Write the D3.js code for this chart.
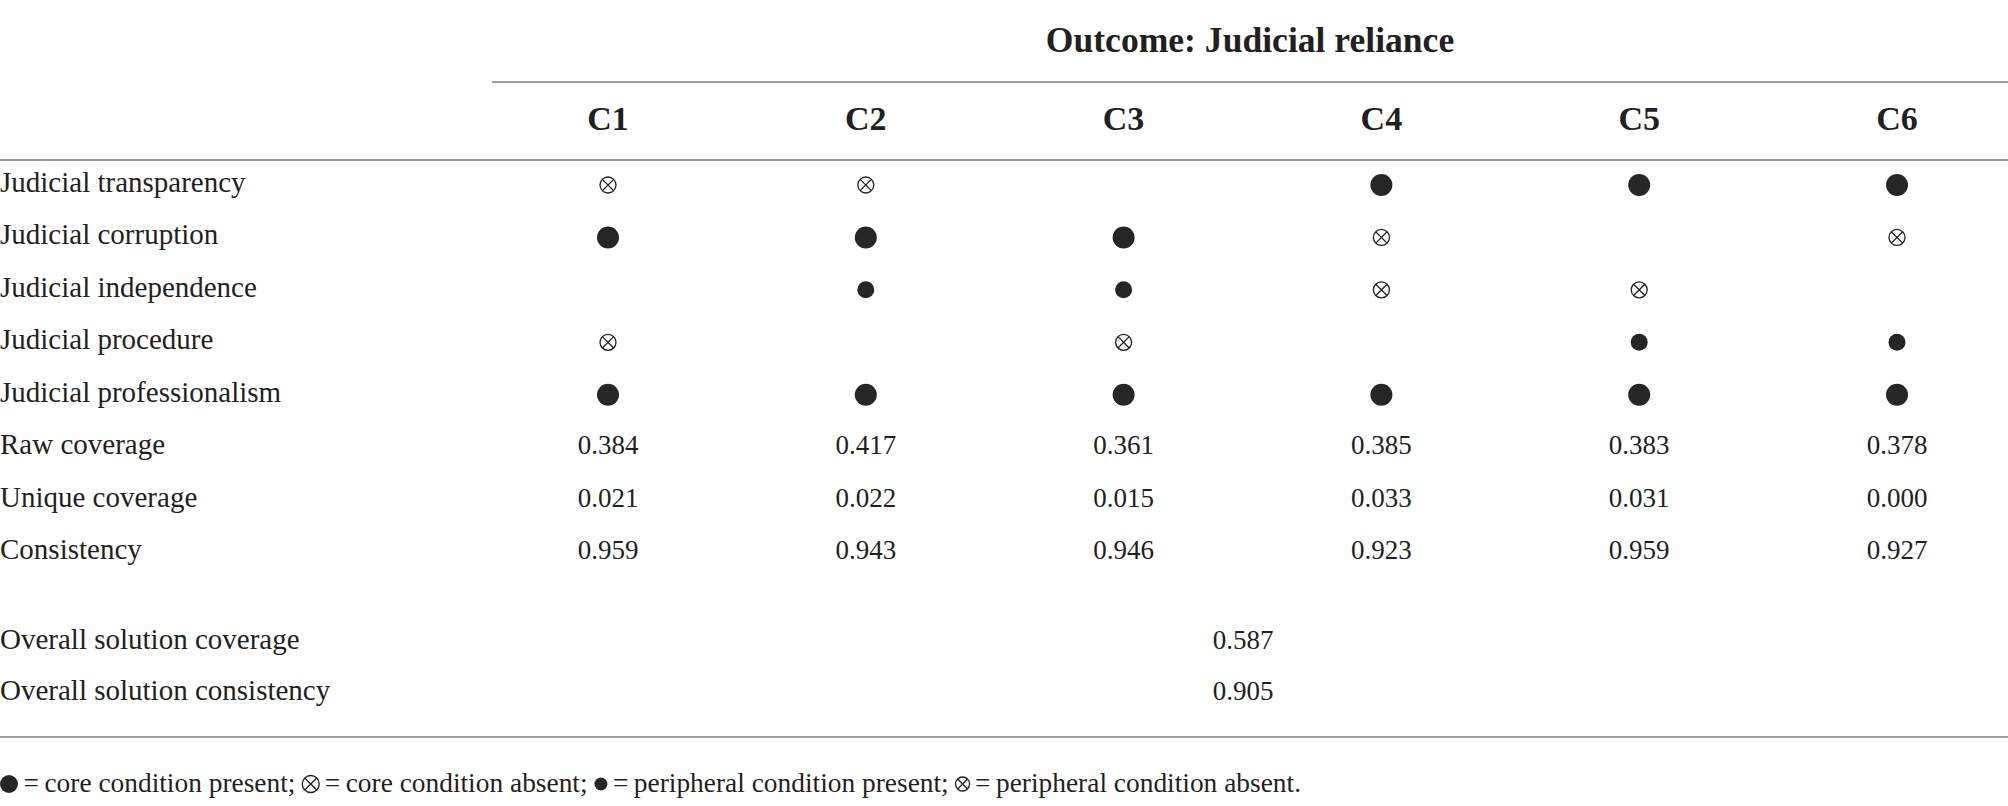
<!DOCTYPE html>
<html>
<head>
<meta charset="utf-8">
<script src="https://cdn.jsdelivr.net/npm/d3@7"></script>
<style>
  html, body { margin: 0; padding: 0; background: #fff; }
  svg { display: block; }
  text { font-family: "Liberation Serif", "DejaVu Serif", serif; fill: #231f20; }
</style>
</head>
<body>
<svg id="table" width="2008" height="806"></svg>
<script>
// configurations (columns)
var configs = ["C1", "C2", "C3", "C4", "C5", "C6"];

// conditions (rows with symbols)
var conditions = [
    "Judicial transparency",
    "Judicial corruption",
    "Judicial independence",
    "Judicial procedure",
    "Judicial professionalism"
];

// CP = core present, CA = core absent, PP = peripheral present, PA = peripheral absent, "" = blank
var cells = [
    ["PA", "PA", "",   "CP", "CP", "CP"],
    ["CP", "CP", "CP", "PA", "",   "PA"],
    ["",   "PP", "PP", "PA", "PA", ""],
    ["PA", "",   "PA", "",   "PP", "PP"],
    ["CP", "CP", "CP", "CP", "CP", "CP"]
];

var metrics = ["Raw coverage", "Unique coverage", "Consistency"];
var rawCoverage = [0.384, 0.417, 0.361, 0.385, 0.383, 0.378];
var uniqueCoverage = [0.021, 0.022, 0.015, 0.033, 0.031, 0.000];
var consistency = [0.959, 0.943, 0.946, 0.923, 0.959, 0.927];

var overallLabels = ["Overall solution coverage", "Overall solution consistency"];
var overallValues = [0.587, 0.905];

var footnote = [
    { sym: "CP", text: "\u2009=\u2009core condition present; " },
    { sym: "CA", text: "\u2009=\u2009core condition absent; " },
    { sym: "PP", text: "\u2009=\u2009peripheral condition present; " },
    { sym: "PA", text: "\u2009=\u2009peripheral condition absent." }
];

var svg = d3.select("#table"),
    width = +svg.attr("width"),
    ink = "#231f20",
    rule = "#9d9d9d",
    fmt = d3.format(".3f");

var x = d3.scalePoint()
    .domain(configs)
    .range([608, 1897]);

var rowLabels = conditions.concat(metrics);
var y = d3.scalePoint()
    .domain(rowLabels)
    .range([192, 559]);

var yOverall = d3.scalePoint()
    .domain(overallLabels)
    .range([649, 700]);

var radius = { CP: 11, CA: 8.5, PP: 8.5, PA: 8 };

function drawSymbol(sel, code, r) {
    if (code === "CP" || code === "PP") {
        sel.append("circle").attr("r", r).attr("fill", "#262626");
    } else if (code === "CA" || code === "PA") {
        sel.append("circle").attr("r", r)
            .attr("fill", "none").attr("stroke", ink).attr("stroke-width", 1.3);
        var k = r * Math.SQRT1_2;
        sel.append("path")
            .attr("d", "M" + (-k) + "," + (-k) + "L" + k + "," + k + "M" + k + "," + (-k) + "L" + (-k) + "," + k)
            .attr("fill", "none").attr("stroke", ink).attr("stroke-width", 1.3);
    }
}

// rules
var gr = svg.append("g").attr("stroke", rule).attr("stroke-width", 2);
gr.append("line").attr("x1", 492).attr("x2", width).attr("y1", 82).attr("y2", 82);
gr.append("line").attr("x1", 0).attr("x2", width).attr("y1", 160).attr("y2", 160);
gr.append("line").attr("x1", 0).attr("x2", width).attr("y1", 737).attr("y2", 737);

// title
svg.append("text")
    .attr("x", (492 + width) / 2)
    .attr("y", 52)
    .attr("text-anchor", "middle")
    .attr("font-size", 35.6)
    .attr("font-weight", "bold")
    .text("Outcome: Judicial reliance");

// column headers
svg.append("g").selectAll("text")
    .data(configs)
    .enter().append("text")
    .attr("x", function (d) { return x(d); })
    .attr("y", 130)
    .attr("text-anchor", "middle")
    .attr("font-size", 34)
    .attr("font-weight", "bold")
    .text(function (d) { return d; });

// row labels
svg.append("g").selectAll("text")
    .data(rowLabels)
    .enter().append("text")
    .attr("x", 0)
    .attr("y", function (d) { return y(d); })
    .attr("font-size", 29)
    .text(function (d) { return d; });

svg.append("g").selectAll("text")
    .data(overallLabels)
    .enter().append("text")
    .attr("x", 0)
    .attr("y", function (d) { return yOverall(d); })
    .attr("font-size", 29)
    .text(function (d) { return d; });

// symbol cells
var symData = [];
cells.forEach(function (row, i) {
    row.forEach(function (code, j) {
        if (code) symData.push({ row: conditions[i], col: configs[j], code: code });
    });
});

svg.append("g").selectAll("g")
    .data(symData)
    .enter().append("g")
    .attr("transform", function (d) { return "translate(" + x(d.col) + "," + (y(d.row) - 7) + ")"; })
    .each(function (d) { drawSymbol(d3.select(this), d.code, radius[d.code]); });

// metric values
var metricRows = [rawCoverage, uniqueCoverage, consistency];
var valData = [];
metricRows.forEach(function (vals, i) {
    vals.forEach(function (v, j) {
        valData.push({ row: metrics[i], col: configs[j], value: v });
    });
});

svg.append("g").selectAll("text")
    .data(valData)
    .enter().append("text")
    .attr("x", function (d) { return x(d.col); })
    .attr("y", function (d) { return y(d.row); })
    .attr("text-anchor", "middle")
    .attr("font-size", 27)
    .text(function (d) { return fmt(d.value); });

// overall solution values
svg.append("g").selectAll("text")
    .data(overallValues)
    .enter().append("text")
    .attr("x", 1243)
    .attr("y", function (d, i) { return yOverall(overallLabels[i]); })
    .attr("text-anchor", "middle")
    .attr("font-size", 27)
    .text(function (d) { return fmt(d); });

// footnote
var footR = { CP: 9, CA: 8.5, PP: 6.5, PA: 7 };
var fy = 792, cursor = 0;
var gf = svg.append("g");
footnote.forEach(function (f) {
    var r = footR[f.sym];
    var s = gf.append("g").attr("transform", "translate(" + (cursor + r) + "," + (fy - 8) + ")");
    drawSymbol(s, f.sym, r);
    cursor += 2 * r;
    var t = gf.append("text")
        .attr("x", cursor)
        .attr("y", fy)
        .attr("font-size", 27.4)
        .attr("xml:space", "preserve")
        .style("white-space", "pre")
        .text(f.text);
    cursor += t.node().getComputedTextLength();
});
</script>
</body>
</html>
